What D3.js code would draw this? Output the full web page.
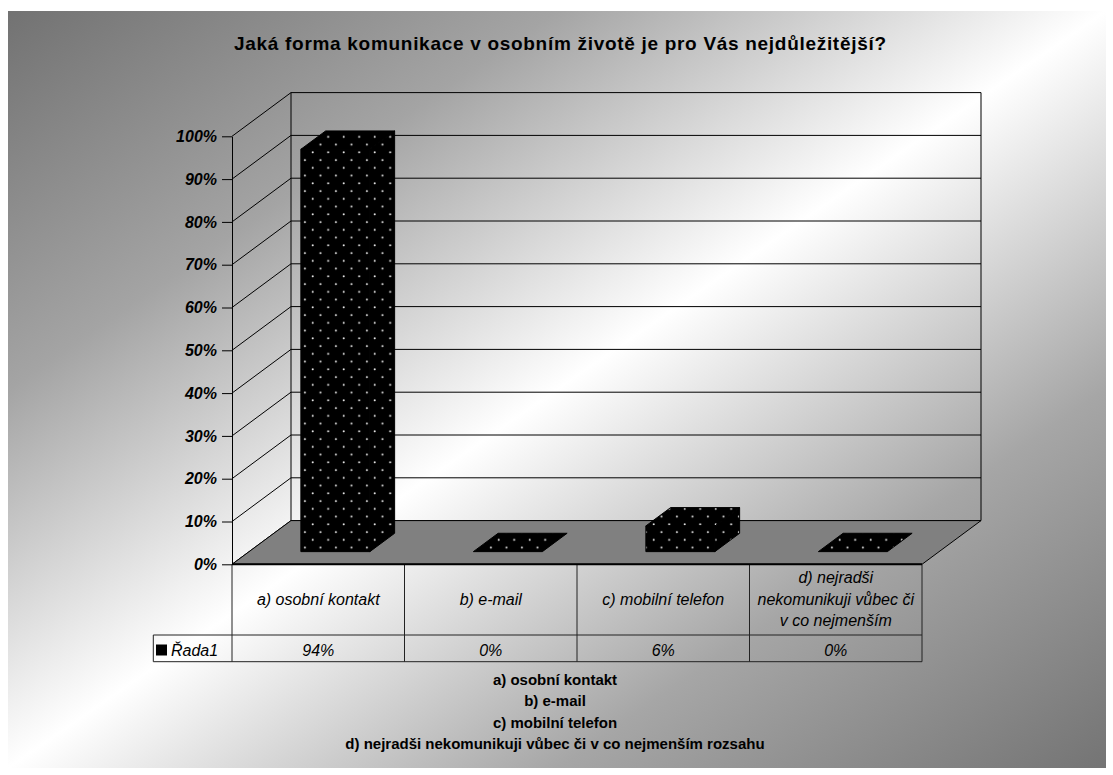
<!DOCTYPE html>
<html>
<head>
<meta charset="utf-8">
<script src="https://cdn.jsdelivr.net/npm/d3@7"></script>
<style>
  html, body { margin: 0; padding: 0; background: #fff; }
  svg { display: block; }
  text { font-family: Arial, "Liberation Sans", sans-serif; fill: #000; }
</style>
</head>
<body>
<svg id="chart" width="1113" height="775"></svg>
<script>
// ---- data ----
const title = "Jaká forma komunikace v osobním životě je pro Vás nejdůležitější?";
const categories = [
  "a) osobní kontakt",
  "b) e-mail",
  "c) mobilní telefon",
  "d) nejradši nekomunikuji vůbec či v co nejmenším rozsahu"
];
// text shown inside the data-table cells (the last one wraps and is cut off by the cell)
const categoryCellLines = [
  ["a) osobní kontakt"],
  ["b) e-mail"],
  ["c) mobilní telefon"],
  ["d) nejradši", "nekomunikuji vůbec či", "v co nejmenším"]
];
const seriesName = "Řada1";
const values = [0.94, 0.00, 0.06, 0.00];
const yTicks = [0, 0.1, 0.2, 0.3, 0.4, 0.5, 0.6, 0.7, 0.8, 0.9, 1.0];

// ---- layout ----
const svg = d3.select("#chart");
const frame = { x: 8, y: 11, w: 1098, h: 757 };
const plot = { left: 232, right: 922, bottom: 564.3, top: 136.3 };
const depth = { dx: 59, dy: -43.7 };      // oblique offset of the back wall
const barDepth = [0.29, 0.71];            // bar front / back as fraction of floor depth
const barWidthRatio = 0.40;
const pct = d3.format(".0%");

const x = d3.scaleBand().domain(categories).range([plot.left, plot.right]).padding(0);
const y = d3.scaleLinear().domain([0, 1]).range([plot.bottom, plot.top]);
const proj = (xf, v, d) => [xf + d * depth.dx, y(v) + d * depth.dy];

const defs = svg.append("defs");

// chart area background: dark corners, light diagonal band
const bg = defs.append("linearGradient").attr("id", "bgGrad")
  .attr("x1", 0).attr("y1", 0).attr("x2", 1).attr("y2", 1);
[[0, "#727272"], [0.25, "#a4a4a4"], [0.5, "#ffffff"], [0.75, "#a6a6a6"], [1, "#747474"]]
  .forEach(([o, c]) => bg.append("stop").attr("offset", o).attr("stop-color", c));

// dotted black fill of the columns
const pat = defs.append("pattern").attr("id", "dots")
  .attr("patternUnits", "userSpaceOnUse")
  .attr("width", 15.5).attr("height", 15.5);
pat.append("rect").attr("width", 15.5).attr("height", 15.5).attr("fill", "#000");
pat.append("circle").attr("cx", 2.7).attr("cy", 12.8).attr("r", 1).attr("fill", "#eeeeee");
pat.append("circle").attr("cx", 10.45).attr("cy", 5.05).attr("r", 1).attr("fill", "#eeeeee");

svg.append("rect")
  .attr("x", frame.x).attr("y", frame.y).attr("width", frame.w).attr("height", frame.h)
  .attr("fill", "url(#bgGrad)");

// ---- title ----
svg.append("text")
  .attr("x", 560).attr("y", 50)
  .attr("text-anchor", "middle")
  .attr("textLength", 652).attr("lengthAdjust", "spacing")
  .style("font-weight", "bold").style("font-size", "19px")
  .text(title);

// ---- walls and gridlines ----
const line = d3.line();
const walls = svg.append("g").attr("stroke", "#000").attr("stroke-width", 1).attr("fill", "none");

// side wall gridlines (diagonals)
walls.selectAll("path.side").data(yTicks).join("path").attr("class", "side")
  .attr("d", t => line([proj(plot.left, t, 0), proj(plot.left, t, 1)]));
// back wall gridlines
walls.selectAll("path.back").data(yTicks).join("path").attr("class", "back")
  .attr("d", t => line([proj(plot.left, t, 1), proj(plot.right, t, 1)]));
// back wall edges
walls.append("path").attr("d", line([proj(plot.left, 0, 1), proj(plot.left, 1, 1)]));
walls.append("path").attr("d", line([proj(plot.right, 0, 1), proj(plot.right, 1, 1)]));

// floor
svg.append("path")
  .attr("d", line([proj(plot.left, 0, 0), proj(plot.right, 0, 0), proj(plot.right, 0, 1), proj(plot.left, 0, 1)]) + "Z")
  .attr("fill", "#808080").attr("stroke", "#000").attr("stroke-width", 1);

// ---- columns ----
const bars = svg.append("g").attr("fill", "url(#dots)").attr("stroke", "#000").attr("stroke-width", 1)
  .attr("stroke-linejoin", "round");
categories.forEach((c, i) => {
  const v = values[i];
  const bw = x.bandwidth() * barWidthRatio;
  const x0 = x(c) + (x.bandwidth() - bw) / 2;
  const x1 = x0 + bw;
  const [d0, d1] = barDepth;
  const g = bars.append("g");
  if (v > 0) {
    g.append("path").attr("d", line([proj(x0, 0, d0), proj(x1, 0, d0), proj(x1, v, d0), proj(x0, v, d0)]) + "Z");
    g.append("path").attr("d", line([proj(x1, 0, d0), proj(x1, 0, d1), proj(x1, v, d1), proj(x1, v, d0)]) + "Z");
  }
  g.append("path").attr("d", line([proj(x0, v, d0), proj(x1, v, d0), proj(x1, v, d1), proj(x0, v, d1)]) + "Z");
});

// ---- value axis ----
const yAxis = svg.append("g")
  .attr("transform", `translate(${plot.left},0)`)
  .call(d3.axisLeft(y).tickValues(yTicks).tickFormat(pct).tickSize(10).tickSizeOuter(0).tickPadding(5));
yAxis.select(".domain").attr("stroke", "#000");
yAxis.selectAll(".tick line").attr("stroke", "#000");
yAxis.selectAll(".tick text")
  .style("font-family", "Arial, 'Liberation Sans', sans-serif")
  .style("font-size", "16px").style("font-weight", "bold").style("font-style", "italic")
  .attr("fill", "#000");

// ---- data table ----
const table = { labelBottom: 635, bottom: 661.7, headLeft: 153.3 };
const tbl = svg.append("g").attr("stroke", "#222").attr("stroke-width", 1).attr("fill", "none");
const colEdges = categories.map(c => x(c)).concat([plot.right]);
tbl.selectAll("line.col").data(colEdges).join("line").attr("class", "col")
  .attr("x1", d => d).attr("x2", d => d).attr("y1", plot.bottom).attr("y2", table.bottom);
tbl.append("line").attr("x1", table.headLeft).attr("x2", plot.right)
  .attr("y1", table.labelBottom).attr("y2", table.labelBottom);
tbl.append("line").attr("x1", table.headLeft).attr("x2", plot.right)
  .attr("y1", table.bottom).attr("y2", table.bottom);
tbl.append("line").attr("x1", table.headLeft).attr("x2", table.headLeft)
  .attr("y1", table.labelBottom).attr("y2", table.bottom);
// heavy front edge of the floor along the table top
svg.append("line").attr("x1", plot.left).attr("x2", plot.right)
  .attr("y1", plot.bottom).attr("y2", plot.bottom)
  .attr("stroke", "#000").attr("stroke-width", 2);

// category labels
const catText = svg.append("g").style("font-size", "16px").style("font-style", "italic")
  .attr("text-anchor", "middle");
categories.forEach((c, i) => {
  const lines = categoryCellLines[i];
  const cx = x(c) + x.bandwidth() / 2;
  const mid = (lines.length - 1) / 2;
  lines.forEach((ln, k) => {
    catText.append("text").attr("x", cx).attr("y", 604.5 + (k - mid) * 21.5).text(ln);
  });
});

// series row: legend key, name and values
svg.append("rect").attr("x", 156).attr("y", 644.5).attr("width", 11).attr("height", 11).attr("fill", "#000");
svg.append("text").attr("x", 171).attr("y", 655.5)
  .style("font-size", "16px").style("font-style", "italic").text(seriesName);
svg.append("g").style("font-size", "16px").style("font-style", "italic").attr("text-anchor", "middle")
  .selectAll("text").data(categories).join("text")
  .attr("x", c => x(c) + x.bandwidth() / 2).attr("y", 655.5)
  .text((c, i) => pct(values[i]));

// ---- category key below the table ----
svg.append("g").style("font-size", "15px").style("font-weight", "bold").attr("text-anchor", "middle")
  .selectAll("text").data(categories).join("text")
  .attr("x", 555).attr("y", (d, i) => 685 + i * 21.3)
  .text(d => d);
</script>
</body>
</html>
